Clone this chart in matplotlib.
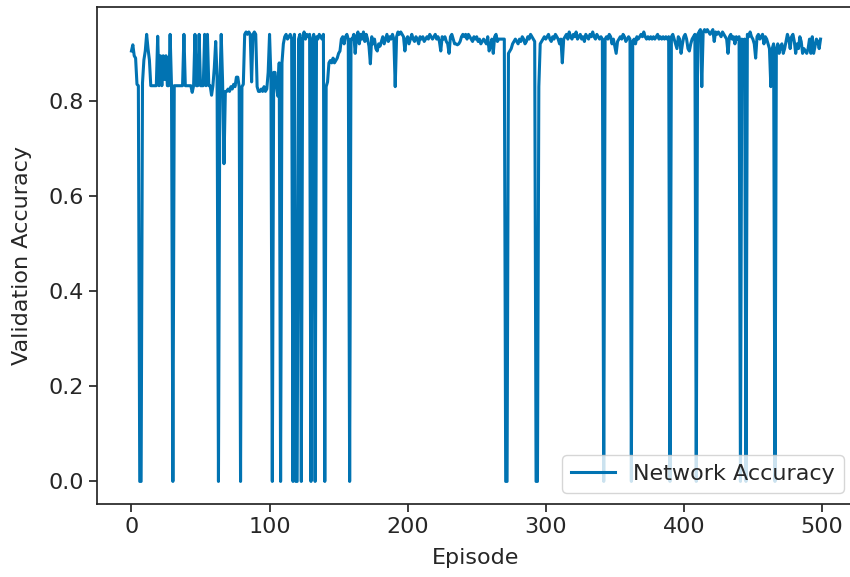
import matplotlib
matplotlib.use("Agg")
import matplotlib.pyplot as plt
import numpy as np

accuracy = [
    0.905, 0.918, 0.895, 0.89, 0.835, 0.832, 0.0, 0.0, 0.838, 0.886,
    0.905, 0.94, 0.91, 0.886, 0.832, 0.832, 0.832, 0.832, 0.832, 0.936,
    0.832, 0.895, 0.832, 0.895, 0.845, 0.895, 0.832, 0.832, 0.94, 0.832,
    0.0, 0.832, 0.832, 0.832, 0.832, 0.832, 0.832, 0.832, 0.94, 0.832,
    0.832, 0.832, 0.832, 0.832, 0.818, 0.832, 0.94, 0.832, 0.832, 0.94,
    0.832, 0.832, 0.832, 0.94, 0.832, 0.94, 0.832, 0.832, 0.812, 0.832,
    0.87, 0.925, 0.85, 0.0, 0.832, 0.94, 0.84, 0.668, 0.82, 0.82,
    0.825, 0.82, 0.83, 0.825, 0.835, 0.83, 0.85, 0.85, 0.83, 0.0,
    0.83, 0.835, 0.94, 0.945, 0.94, 0.945, 0.94, 0.84, 0.94, 0.945,
    0.94, 0.83, 0.82, 0.82, 0.825, 0.82, 0.83, 0.82, 0.825, 0.86,
    0.94, 0.85, 0.0, 0.86, 0.86, 0.83, 0.81, 0.88, 0.0, 0.88,
    0.92, 0.935, 0.94, 0.93, 0.935, 0.94, 0.93, 0.0, 0.94, 0.0,
    0.0, 0.93, 0.94, 0.0, 0.93, 0.945, 0.93, 0.94, 0.935, 0.94,
    0.0, 0.93, 0.94, 0.0, 0.935, 0.93, 0.94, 0.935, 0.93, 0.94,
    0.0, 0.83, 0.84, 0.88, 0.885, 0.88, 0.89, 0.88, 0.885, 0.89,
    0.9, 0.905, 0.93, 0.935, 0.92, 0.935, 0.94, 0.93, 0.0, 0.93,
    0.93, 0.94, 0.90, 0.935, 0.945, 0.92, 0.94, 0.93, 0.945, 0.925,
    0.94, 0.93, 0.915, 0.878, 0.935, 0.92, 0.93, 0.91, 0.905, 0.92,
    0.915, 0.925, 0.935, 0.92, 0.93, 0.94, 0.925, 0.935, 0.93, 0.94,
    0.93, 0.83, 0.935, 0.945, 0.94, 0.945, 0.94, 0.935, 0.905, 0.93,
    0.935, 0.92, 0.93, 0.94, 0.93, 0.925, 0.935, 0.93, 0.92, 0.935,
    0.93, 0.935, 0.925, 0.93, 0.935, 0.93, 0.94, 0.935, 0.93, 0.935,
    0.94, 0.93, 0.935, 0.925, 0.905, 0.935, 0.93, 0.935, 0.925, 0.92,
    0.90, 0.935, 0.94, 0.93, 0.92, 0.92, 0.918, 0.92, 0.925, 0.935,
    0.94, 0.935, 0.94, 0.93, 0.94, 0.935, 0.93, 0.925, 0.935, 0.93,
    0.935, 0.925, 0.93, 0.92, 0.925, 0.93, 0.925, 0.92, 0.935, 0.905,
    0.915, 0.93, 0.90, 0.935, 0.94, 0.925, 0.93, 0.93, 0.93, 0.93,
    0.93, 0.0, 0.0, 0.90, 0.905, 0.91, 0.92, 0.925, 0.93, 0.925,
    0.92, 0.93, 0.925, 0.935, 0.93, 0.92, 0.925, 0.935, 0.93, 0.94,
    0.935, 0.93, 0.925, 0.0, 0.0, 0.83, 0.92, 0.925, 0.93, 0.935,
    0.93, 0.935, 0.94, 0.93, 0.925, 0.935, 0.93, 0.94, 0.935, 0.93,
    0.92, 0.93, 0.88, 0.93, 0.935, 0.94, 0.93, 0.945, 0.935, 0.93,
    0.94, 0.935, 0.945, 0.93, 0.935, 0.94, 0.93, 0.935, 0.925, 0.94,
    0.935, 0.93, 0.94, 0.935, 0.945, 0.935, 0.93, 0.94, 0.935, 0.93,
    0.935, 0.93, 0.0, 0.93, 0.935, 0.93, 0.94, 0.935, 0.92, 0.93,
    0.915, 0.90, 0.925, 0.93, 0.935, 0.93, 0.94, 0.935, 0.925, 0.93,
    0.935, 0.93, 0.0, 0.925, 0.93, 0.92, 0.935, 0.93, 0.935, 0.94,
    0.935, 0.945, 0.935, 0.93, 0.935, 0.93, 0.935, 0.93, 0.935, 0.93,
    0.935, 0.94, 0.93, 0.935, 0.93, 0.935, 0.93, 0.935, 0.93, 0.935,
    0.0, 0.935, 0.94, 0.93, 0.92, 0.91, 0.935, 0.93, 0.90, 0.92,
    0.935, 0.94, 0.93, 0.91, 0.905, 0.92, 0.93, 0.935, 0.94, 0.0,
    0.94, 0.945, 0.95, 0.83, 0.945, 0.95, 0.945, 0.95, 0.945, 0.94,
    0.945, 0.95, 0.925, 0.945, 0.94, 0.945, 0.94, 0.935, 0.945, 0.94,
    0.935, 0.93, 0.90, 0.935, 0.94, 0.93, 0.935, 0.92, 0.935, 0.93,
    0.935, 0.0, 0.93, 0.925, 0.93, 0.0, 0.94, 0.935, 0.945, 0.935,
    0.93, 0.92, 0.89, 0.935, 0.94, 0.93, 0.935, 0.94, 0.92, 0.935,
    0.93, 0.92, 0.91, 0.83, 0.91, 0.92, 0.0, 0.91, 0.92, 0.90,
    0.915, 0.92, 0.90, 0.91, 0.925, 0.94, 0.93, 0.91, 0.935, 0.94,
    0.925, 0.90, 0.92, 0.91, 0.935, 0.925, 0.90, 0.91, 0.905, 0.90,
    0.91, 0.93, 0.90, 0.935, 0.90, 0.915, 0.93, 0.925, 0.91, 0.93,
]
episodes = list(range(len(accuracy)))

text_color = "#262626"
plt.rcParams.update({
    "font.family": "DejaVu Sans",
    "font.size": 16,
    "text.color": text_color,
    "axes.labelcolor": text_color,
    "xtick.color": text_color,
    "ytick.color": text_color,
    "axes.edgecolor": text_color,
    "axes.linewidth": 1.25,
    "xtick.major.size": 6,
    "ytick.major.size": 6,
    "xtick.major.width": 1.25,
    "ytick.major.width": 1.25,
})

fig = plt.figure(figsize=(8.5, 5.77), dpi=100)
ax = fig.add_axes([97 / 850, 73 / 577, 758 / 850, 497 / 577])
ax.plot(episodes, accuracy, color="#0173b2", linewidth=2.2, label="Network Accuracy")
ax.set_xlabel("Episode", fontsize=16, labelpad=8)
ax.set_ylabel("Validation Accuracy", fontsize=16, labelpad=12)
ax.tick_params(labelsize=16)
ax.set_xticks([0, 100, 200, 300, 400, 500])
ax.set_yticks([0.0, 0.2, 0.4, 0.6, 0.8])
ax.legend(loc="lower right", fontsize=16)
fig.savefig("out.png", dpi=100)
